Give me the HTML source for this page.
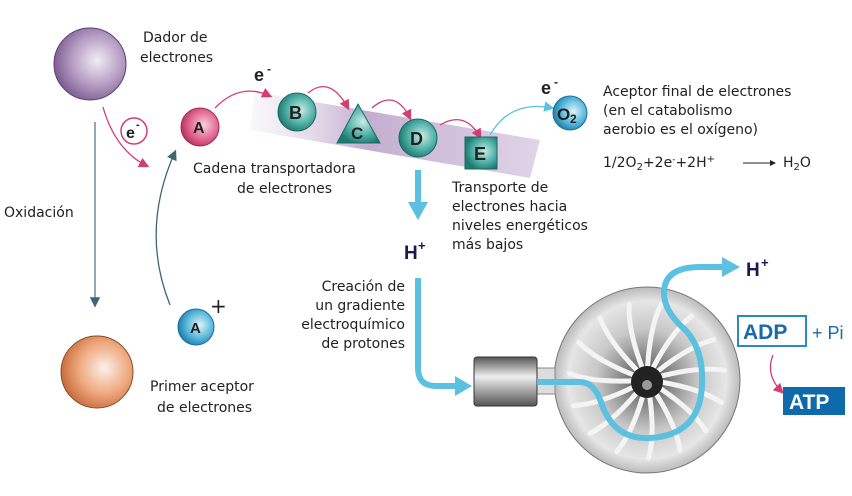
<!DOCTYPE html>
<html><head><meta charset="utf-8"><style>
html,body{margin:0;padding:0;background:#fff}
svg{display:block;font-family:"DejaVu Sans","Liberation Sans",sans-serif;font-size:14px;fill:#222}
.b{font-family:"Liberation Sans",sans-serif;font-weight:bold}
</style></head><body>
<svg width="852" height="496" viewBox="0 0 852 496" xmlns="http://www.w3.org/2000/svg">
<defs>
<radialGradient id="gp" cx="0.6" cy="0.45" r="0.6"><stop offset="0" stop-color="#f2ecf5"/><stop offset="0.6" stop-color="#b39ac2"/><stop offset="1" stop-color="#7d5f92"/></radialGradient>
<radialGradient id="go" cx="0.6" cy="0.45" r="0.6"><stop offset="0" stop-color="#fbf1ea"/><stop offset="0.6" stop-color="#eea77c"/><stop offset="1" stop-color="#c86e40"/></radialGradient>
<radialGradient id="gpk" cx="0.6" cy="0.45" r="0.6"><stop offset="0" stop-color="#f8d0de"/><stop offset="0.6" stop-color="#e46a93"/><stop offset="1" stop-color="#b83360"/></radialGradient>
<radialGradient id="gt" cx="0.6" cy="0.45" r="0.6"><stop offset="0" stop-color="#c9ece7"/><stop offset="0.6" stop-color="#4fb0a6"/><stop offset="1" stop-color="#1f7a70"/></radialGradient>
<radialGradient id="gb" cx="0.6" cy="0.45" r="0.6"><stop offset="0" stop-color="#e0f4fb"/><stop offset="0.6" stop-color="#5ab8dc"/><stop offset="1" stop-color="#1f7fac"/></radialGradient>
<radialGradient id="gturb" cx="0.5" cy="0.5" r="0.5"><stop offset="0" stop-color="#333"/><stop offset="0.2" stop-color="#777"/><stop offset="0.55" stop-color="#c8c8c8"/><stop offset="0.85" stop-color="#e6e6e6"/><stop offset="1" stop-color="#bbb"/></radialGradient>
<linearGradient id="gband" x1="0" y1="0" x2="1" y2="0"><stop offset="0" stop-color="#e6dcea" stop-opacity="0.2"/><stop offset="0.4" stop-color="#c4aed0"/><stop offset="1" stop-color="#e0d4e8"/></linearGradient>
<linearGradient id="gcyl" x1="0" y1="0" x2="0" y2="1"><stop offset="0" stop-color="#555"/><stop offset="0.4" stop-color="#eee"/><stop offset="1" stop-color="#555"/></linearGradient>
<marker id="mp" markerWidth="8" markerHeight="8" refX="6" refY="4" orient="auto"><path d="M0,0 L8,4 L0,8z" fill="#d0406f"/></marker>
<marker id="mg" markerWidth="8" markerHeight="8" refX="6" refY="4" orient="auto"><path d="M0,0 L8,4 L0,8z" fill="#3d6674"/></marker>
<marker id="mlb" markerWidth="8" markerHeight="8" refX="6" refY="4" orient="auto"><path d="M0,0 L8,4 L0,8z" fill="#5cc0e0"/></marker>
</defs>
<polygon points="255,92 540,140 530,178 250,130" fill="url(#gband)"/>
<circle cx="90" cy="64" r="36" fill="url(#gp)" stroke="#5a4070" stroke-width="1"/>
<circle cx="97" cy="372" r="36" fill="url(#go)" stroke="#8a4a2a" stroke-width="1"/>
<text x="143" y="42">Dador de</text><text x="140" y="62">electrones</text>
<line x1="95" y1="122" x2="95" y2="305" stroke="#5a7a88" stroke-width="1.3" marker-end="url(#mg)"/>
<text x="4" y="217">Oxidación</text>
<path d="M103,107 Q115,150 147,166" fill="none" stroke="#d0406f" stroke-width="1.3" marker-end="url(#mp)"/>
<circle cx="134" cy="131" r="13" fill="#fff" stroke="#d0406f" stroke-width="1.5"/>
<text x="126" y="138" class="b" font-size="16">e</text><text x="136" y="128" class="b" font-size="11">-</text>
<circle cx="200" cy="127" r="19" fill="url(#gpk)" stroke="#a02850"/>
<text x="193" y="133" class="b" font-size="16">A</text>
<path d="M170,305 Q140,230 175,152" fill="none" stroke="#3d6674" stroke-width="1.3" marker-end="url(#mg)"/>
<circle cx="196" cy="327" r="18" fill="url(#gb)" stroke="#1f6f9a"/>
<text x="190" y="333" class="b" font-size="15">A</text>
<text x="210" y="313" font-size="20">+</text>
<text x="150" y="391">Primer aceptor</text><text x="157" y="412">de electrones</text>
<text x="254" y="81" class="b" font-size="18">e</text><text x="267" y="73" class="b" font-size="12">-</text>
<path d="M215,108 Q240,82 270,96" fill="none" stroke="#d0406f" stroke-width="1.3" marker-end="url(#mp)"/>
<path d="M308,93 Q330,75 348,108" fill="none" stroke="#d0406f" stroke-width="1.3" marker-end="url(#mp)"/>
<path d="M372,108 Q395,88 410,118" fill="none" stroke="#d0406f" stroke-width="1.3" marker-end="url(#mp)"/>
<path d="M440,125 Q465,110 480,137" fill="none" stroke="#d0406f" stroke-width="1.3" marker-end="url(#mp)"/>
<circle cx="297" cy="112" r="19" fill="url(#gt)" stroke="#1a6a60"/>
<text x="289" y="119" class="b" font-size="18">B</text>
<polygon points="358,104 380,143 337,143" fill="url(#gt)" stroke="#1a6a60"/>
<text x="351" y="139" class="b" font-size="17">C</text>
<circle cx="418" cy="138" r="19" fill="url(#gt)" stroke="#1a6a60"/>
<text x="410" y="145" class="b" font-size="18">D</text>
<rect x="465" y="137" width="32" height="32" fill="url(#gt)" stroke="#1a6a60"/>
<text x="474" y="160" class="b" font-size="18">E</text>
<path d="M490,135 Q510,100 552,108" fill="none" stroke="#5cc0e0" stroke-width="1.3" marker-end="url(#mlb)"/>
<text x="541" y="94" class="b" font-size="18">e</text><text x="554" y="86" class="b" font-size="12">-</text>
<circle cx="570" cy="113" r="17" fill="url(#gb)" stroke="#1f6f9a"/>
<text x="557" y="120" class="b" font-size="17">O</text><text x="570" y="123" class="b" font-size="12">2</text>
<text x="603" y="96">Aceptor final de electrones</text>
<text x="603" y="115">(en el catabolismo</text>
<text x="603" y="134">aerobio es el oxígeno)</text>
<text x="603" y="167">1/2O<tspan font-size="10" dy="3">2</tspan><tspan dy="-3">+2e</tspan><tspan font-size="9" dy="-5">-</tspan><tspan dy="5">+2H</tspan><tspan font-size="10" dy="-5">+</tspan></text>
<line x1="743" y1="163" x2="770" y2="163" stroke="#222" stroke-width="1"/><path d="M770,160 L776,163 L770,166z" fill="#222"/>
<text x="783" y="167">H<tspan font-size="10" dy="3">2</tspan><tspan dy="-3">O</tspan></text>
<text x="193" y="173">Cadena transportadora</text>
<text x="237" y="193">de electrones</text>
<text x="452" y="192">Transporte de</text>
<text x="452" y="211">electrones hacia</text>
<text x="452" y="230">niveles energéticos</text>
<text x="452" y="249">más bajos</text>
<rect x="415" y="170" width="6" height="34" fill="#5cc0e0"/>
<path d="M408,202 L428,202 L418,220z" fill="#5cc0e0"/>
<text x="404" y="259" class="b" font-size="19" style="fill:#1a1a50">H</text><text x="418" y="250" class="b" font-size="13" style="fill:#1a1a50">+</text>
<text x="405" y="291" text-anchor="end">Creación de</text>
<text x="405" y="310" text-anchor="end">un gradiente</text>
<text x="405" y="329" text-anchor="end">electroquímico</text>
<text x="405" y="348" text-anchor="end">de protones</text>
<path d="M418,278 L418,368 Q418,386 436,386 L458,386" fill="none" stroke="#5cc0e0" stroke-width="6"/>
<path d="M455,376 L472,386 L455,396z" fill="#5cc0e0"/>
<circle cx="647" cy="380" r="93" fill="url(#gturb)" stroke="#777"/>
<rect x="535" y="368" width="20" height="26" fill="#ddd" stroke="#888"/>
<rect x="474" y="357" width="63" height="49" rx="3" fill="url(#gcyl)" stroke="#333"/>
<g stroke="#f4f4f4" stroke-width="5" fill="none" stroke-linecap="round">
<path d="M647,380 Q610,345 600,318" transform="rotate(0 647 380)"/>
<path d="M647,380 Q610,345 600,318" transform="rotate(24 647 380)"/>
<path d="M647,380 Q610,345 600,318" transform="rotate(48 647 380)"/>
<path d="M647,380 Q610,345 600,318" transform="rotate(72 647 380)"/>
<path d="M647,380 Q610,345 600,318" transform="rotate(96 647 380)"/>
<path d="M647,380 Q610,345 600,318" transform="rotate(120 647 380)"/>
<path d="M647,380 Q610,345 600,318" transform="rotate(144 647 380)"/>
<path d="M647,380 Q610,345 600,318" transform="rotate(168 647 380)"/>
<path d="M647,380 Q610,345 600,318" transform="rotate(192 647 380)"/>
<path d="M647,380 Q610,345 600,318" transform="rotate(216 647 380)"/>
<path d="M647,380 Q610,345 600,318" transform="rotate(240 647 380)"/>
<path d="M647,380 Q610,345 600,318" transform="rotate(264 647 380)"/>
<path d="M647,380 Q610,345 600,318" transform="rotate(288 647 380)"/>
<path d="M647,380 Q610,345 600,318" transform="rotate(312 647 380)"/>
<path d="M647,380 Q610,345 600,318" transform="rotate(336 647 380)"/>
</g>
<circle cx="647" cy="382" r="16" fill="#222"/>
<circle cx="647" cy="385" r="5" fill="#999"/>
<path d="M537,382 L580,382 Q595,382 602,405 Q615,440 650,438 Q700,435 702,385 Q704,345 680,325 Q660,305 665,285 Q670,267 700,267 L725,267" fill="none" stroke="#5cc0e0" stroke-width="6"/>
<path d="M722,257 L740,267 L722,277z" fill="#5cc0e0"/>
<text x="746" y="276" class="b" font-size="19" style="fill:#1a1a50">H</text><text x="761" y="267" class="b" font-size="13" style="fill:#1a1a50">+</text>
<rect x="738" y="316" width="68" height="30" fill="#fff" stroke="#2a8ac8" stroke-width="2"/>
<text x="743" y="339" class="b" font-size="21" style="fill:#1a6aa8">ADP</text>
<text x="812" y="339" font-size="18" style="fill:#1a6aa8;font-family:'Liberation Sans',sans-serif">+ Pi</text>
<path d="M773,355 Q765,375 782,392" fill="none" stroke="#d0406f" stroke-width="1.3" marker-end="url(#mp)"/>
<rect x="783" y="387" width="62" height="28" fill="#0e6aaa"/>
<text x="789" y="409" class="b" font-size="21" style="fill:#fff">ATP</text>
</svg>
</body></html>
